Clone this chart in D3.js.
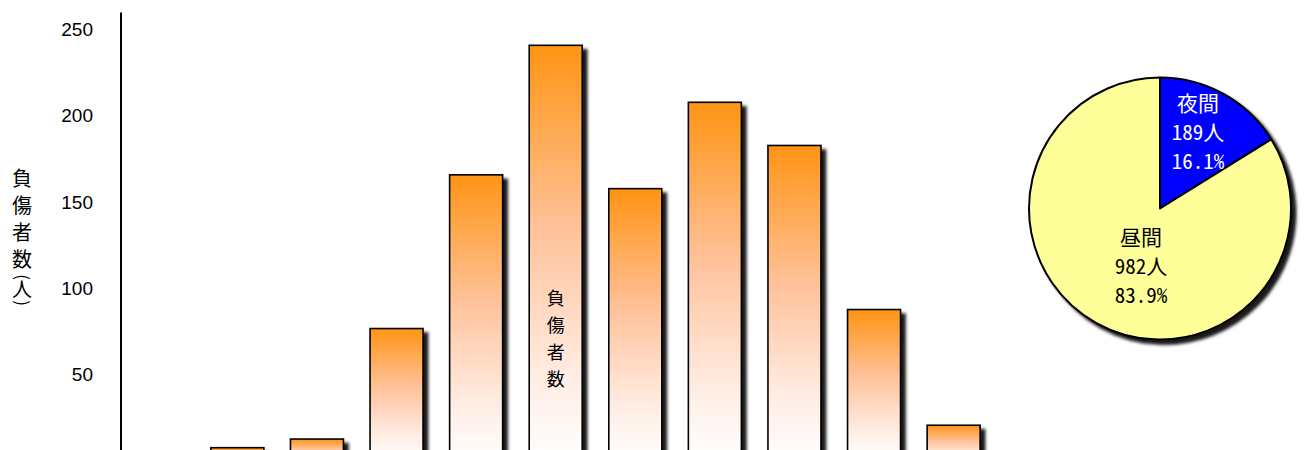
<!DOCTYPE html>
<html><head><meta charset="utf-8">
<script src="https://cdn.jsdelivr.net/npm/d3@7"></script>
<style>
body{margin:0;background:#fff}
svg{display:block}
.jp{font-family:"Noto Sans CJK JP","Noto Sans CJK SC",sans-serif}
.tick{font-family:"Liberation Sans",Arial,sans-serif}
</style>
</head><body>
<svg id="c" width="1309" height="450"></svg>
<script>
// ---- data ----
const categories = ["0-2時","2-4時","4-6時","6-8時","8-10時","10-12時","12-14時","14-16時","16-18時","18-20時","20-22時","22-24時"];
const injured = [4, 8, 13, 77, 166, 241, 158, 208, 183, 88, 21, 4];
const yTicks = [50, 100, 150, 200, 250];
const yTitleChars = ["負","傷","者","数","(","人",")"];
const barLabel = "負傷者数";
const pieNames = ["夜間", "昼間"];
const pieValues = [189, 982];
const piePercents = ["16.1%", "83.9%"];
const pieColors = ["#0000FF", "#FFFF99"];
const pieTextColors = ["#FFFFFF", "#000000"];

// ---- drawing ----
const svg = d3.select("#c");
const defs = svg.append("defs");

const grad = defs.append("linearGradient").attr("id","barGrad")
  .attr("x1",0).attr("y1",0).attr("x2",0).attr("y2",1);
grad.append("stop").attr("offset","0%").attr("stop-color","#FF9414");
grad.append("stop").attr("offset","45%").attr("stop-color","#FFC39C");
grad.append("stop").attr("offset","80%").attr("stop-color","#FFEDE4");
grad.append("stop").attr("offset","100%").attr("stop-color","#FFFFFF");

const sh = defs.append("filter").attr("id","shadow")
  .attr("x","-10%").attr("y","-10%").attr("width","130%").attr("height","130%");
sh.append("feDropShadow").attr("dx",4.5).attr("dy",4.5).attr("stdDeviation",1.8)
  .attr("flood-color","#000").attr("flood-opacity",0.9);

const x = d3.scaleBand().domain(categories).range([118, 1073])
  .paddingInner(0.334).paddingOuter(0.167);
const y = d3.scaleLinear().domain([0, 260]).range([461.5, 12.5]);

// bars
svg.append("g").selectAll("rect").data(injured).join("rect")
  .attr("x", (d,i) => x(categories[i]))
  .attr("y", d => y(d))
  .attr("width", x.bandwidth())
  .attr("height", d => y(0) - y(d))
  .attr("fill", "url(#barGrad)")
  .attr("stroke", "#000").attr("stroke-width", 1.6)
  .attr("filter", "url(#shadow)");

// y axis
const yAxis = d3.axisLeft(y).tickValues(yTicks).tickSize(0).tickPadding(28);
const ga = svg.append("g").attr("transform","translate(121,0)").call(yAxis);
ga.select(".domain").attr("stroke","#000").attr("stroke-width",2)
  .attr("d", `M0,${y(260)}V${y(0)}`);
ga.selectAll(".tick text").attr("class","tick").attr("font-size",19)
  .attr("fill","#000").attr("dy","0.3em");

// y axis title (vertical, parentheses rotated)
const tPos = [179, 206, 233, 260, 277, 290, 303];
svg.append("g").attr("class","jp").selectAll("text").data(yTitleChars).join("text")
  .attr("x", 22).attr("y", (d,i) => tPos[i]).attr("dy","0.36em")
  .attr("text-anchor","middle")
  .attr("font-size", d => (d === "(" || d === ")") ? 17 : 20)
  .attr("transform", (d,i) => (d === "(" || d === ")") ? `rotate(90,22,${tPos[i]})` : null)
  .attr("fill","#000")
  .text(d => d);

// label inside tallest bar
const maxIdx = injured.indexOf(d3.max(injured));
const bx = x(categories[maxIdx]) + x.bandwidth()/2;
svg.append("g").attr("class","jp").selectAll("text").data(Array.from(barLabel)).join("text")
  .attr("x", bx).attr("y", (d,i) => 299 + i*26.7).attr("dy","0.36em")
  .attr("text-anchor","middle").attr("font-size",18).attr("fill","#000")
  .text(d => d);

// pie
const cx = 1160, cy = 208.5, R = 131;
const pie = d3.pie().sort(null)(pieValues);
const arc = d3.arc().innerRadius(0).outerRadius(R);
const pg = svg.append("g").attr("transform",`translate(${cx},${cy})`);
const slices = pg.append("g").attr("filter","url(#shadow)");
slices.selectAll("path").data(pie).join("path")
  .attr("d", arc).attr("fill", (d,i) => pieColors[i])
  .attr("stroke","#000").attr("stroke-width",2).attr("stroke-linejoin","round");

// label offsets from the pie centre (middle line)
const labelOffsets = [[38, -76], [-19, 58]];
pie.forEach((p,i) => {
  const [lx, ly] = labelOffsets[i];
  const lines = [pieNames[i], pieValues[i] + "人", piePercents[i]];
  pg.append("g").selectAll("text").data(lines).join("text")
    .attr("class","jp").attr("text-anchor","middle")
    .attr("font-size",21).attr("fill",pieTextColors[i])
    .style("font-feature-settings","'hwid'")
    .attr("x", lx).attr("y", (s,k) => ly + (k-1)*29).attr("dy","0.36em")
    .text(s => s);
});
</script>
</body></html>
